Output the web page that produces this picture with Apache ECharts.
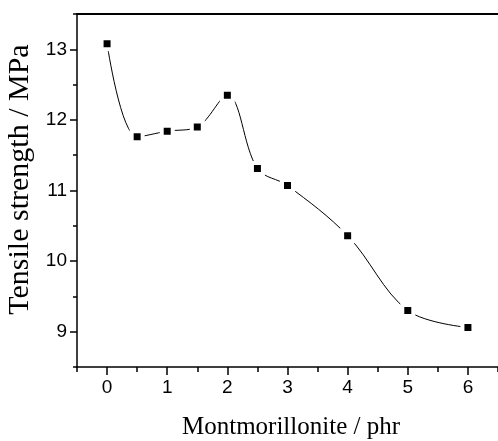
<!DOCTYPE html>
<html>
<head>
<meta charset="utf-8">
<script src="https://cdn.jsdelivr.net/npm/echarts@6/dist/echarts.min.js"></script>
<style>
html,body{margin:0;padding:0;background:#fff;}
#chart{width:498px;height:441px;}
</style>
</head>
<body>
<div id="chart"></div>
<script>
var xValues = [0, 0.5, 1, 1.5, 2, 2.5, 3, 4, 5, 6];
var yValues = [13.08, 11.76, 11.84, 11.90, 12.35, 11.31, 11.07, 10.36, 9.30, 9.06];
var xMajorTicks = [0, 1, 2, 3, 4, 5, 6];
var xMinorTicks = [-0.5, 0.5, 1.5, 2.5, 3.5, 4.5, 5.5, 6.5];
var yMajorTicks = [9, 10, 11, 12, 13];
var yMinorTicks = [8.5, 9.5, 10.5, 11.5, 12.5, 13.5];
var xTitle = 'Montmorillonite / phr';
var yTitle = 'Tensile strength / MPa';

var points = xValues.map(function (x, i) { return [x, yValues[i]]; });

var lineStyle = { color: '#000', width: 1.5 };
var labelFont = { color: '#000', fontSize: 19, fontFamily: 'Liberation Sans' };

var chart = echarts.init(document.getElementById('chart'), null, { renderer: 'canvas' });
chart.setOption({
  animation: false,
  backgroundColor: '#fff',
  grid: { left: 77, right: 0, top: 14, bottom: 74, containLabel: false, outerBoundsMode: 'none' },
  xAxis: [
    {
      type: 'value', min: -0.5, max: 6.5, position: 'bottom',
      axisLine: { show: true, onZero: false, lineStyle: lineStyle },
      axisTick: { show: true, inside: false, length: 8, lineStyle: lineStyle, customValues: xMajorTicks },
      axisLabel: Object.assign({ margin: 11, customValues: xMajorTicks }, labelFont),
      splitLine: { show: false },
      name: xTitle, nameLocation: 'middle', nameGap: 48,
      nameTextStyle: { color: '#000', fontSize: 25, fontFamily: 'Liberation Serif', padding: [0, 0, 0, 7] }
    },
    {
      type: 'value', min: -0.5, max: 6.5, position: 'bottom',
      axisLine: { show: false, onZero: false },
      axisTick: { show: true, inside: false, length: 5, lineStyle: lineStyle, customValues: xMinorTicks },
      axisLabel: { show: false },
      splitLine: { show: false }
    },
    {
      type: 'value', min: -0.5, max: 6.5, position: 'top',
      axisLine: { show: true, onZero: false, lineStyle: { color: '#000', width: 2 } },
      axisTick: { show: false },
      axisLabel: { show: false },
      splitLine: { show: false }
    }
  ],
  yAxis: [
    {
      type: 'value', min: 8.5, max: 13.5, position: 'left',
      axisLine: { show: true, onZero: false, lineStyle: lineStyle },
      axisTick: { show: true, inside: false, length: 7, lineStyle: lineStyle, customValues: yMajorTicks },
      axisLabel: Object.assign({ margin: 10, customValues: yMajorTicks }, labelFont),
      splitLine: { show: false },
      name: yTitle, nameLocation: 'middle', nameGap: 40,
      nameTextStyle: { color: '#000', fontSize: 30, fontFamily: 'Liberation Serif', padding: [0, 0, 0, 22] }
    },
    {
      type: 'value', min: 8.5, max: 13.5, position: 'left',
      axisLine: { show: false, onZero: false },
      axisTick: { show: true, inside: false, length: 4, lineStyle: lineStyle, customValues: yMinorTicks },
      axisLabel: { show: false },
      splitLine: { show: false }
    }
  ],
  series: [
    {
      type: 'line',
      xAxisIndex: 0, yAxisIndex: 0,
      data: points,
      smooth: 0.35,
      symbol: 'rect',
      symbolSize: 11,
      showAllSymbol: true,
      lineStyle: { color: '#000', width: 1 },
      itemStyle: { color: '#000', borderColor: '#fff', borderWidth: 4 },
      z: 5
    }
  ]
});
</script>
</body>
</html>
